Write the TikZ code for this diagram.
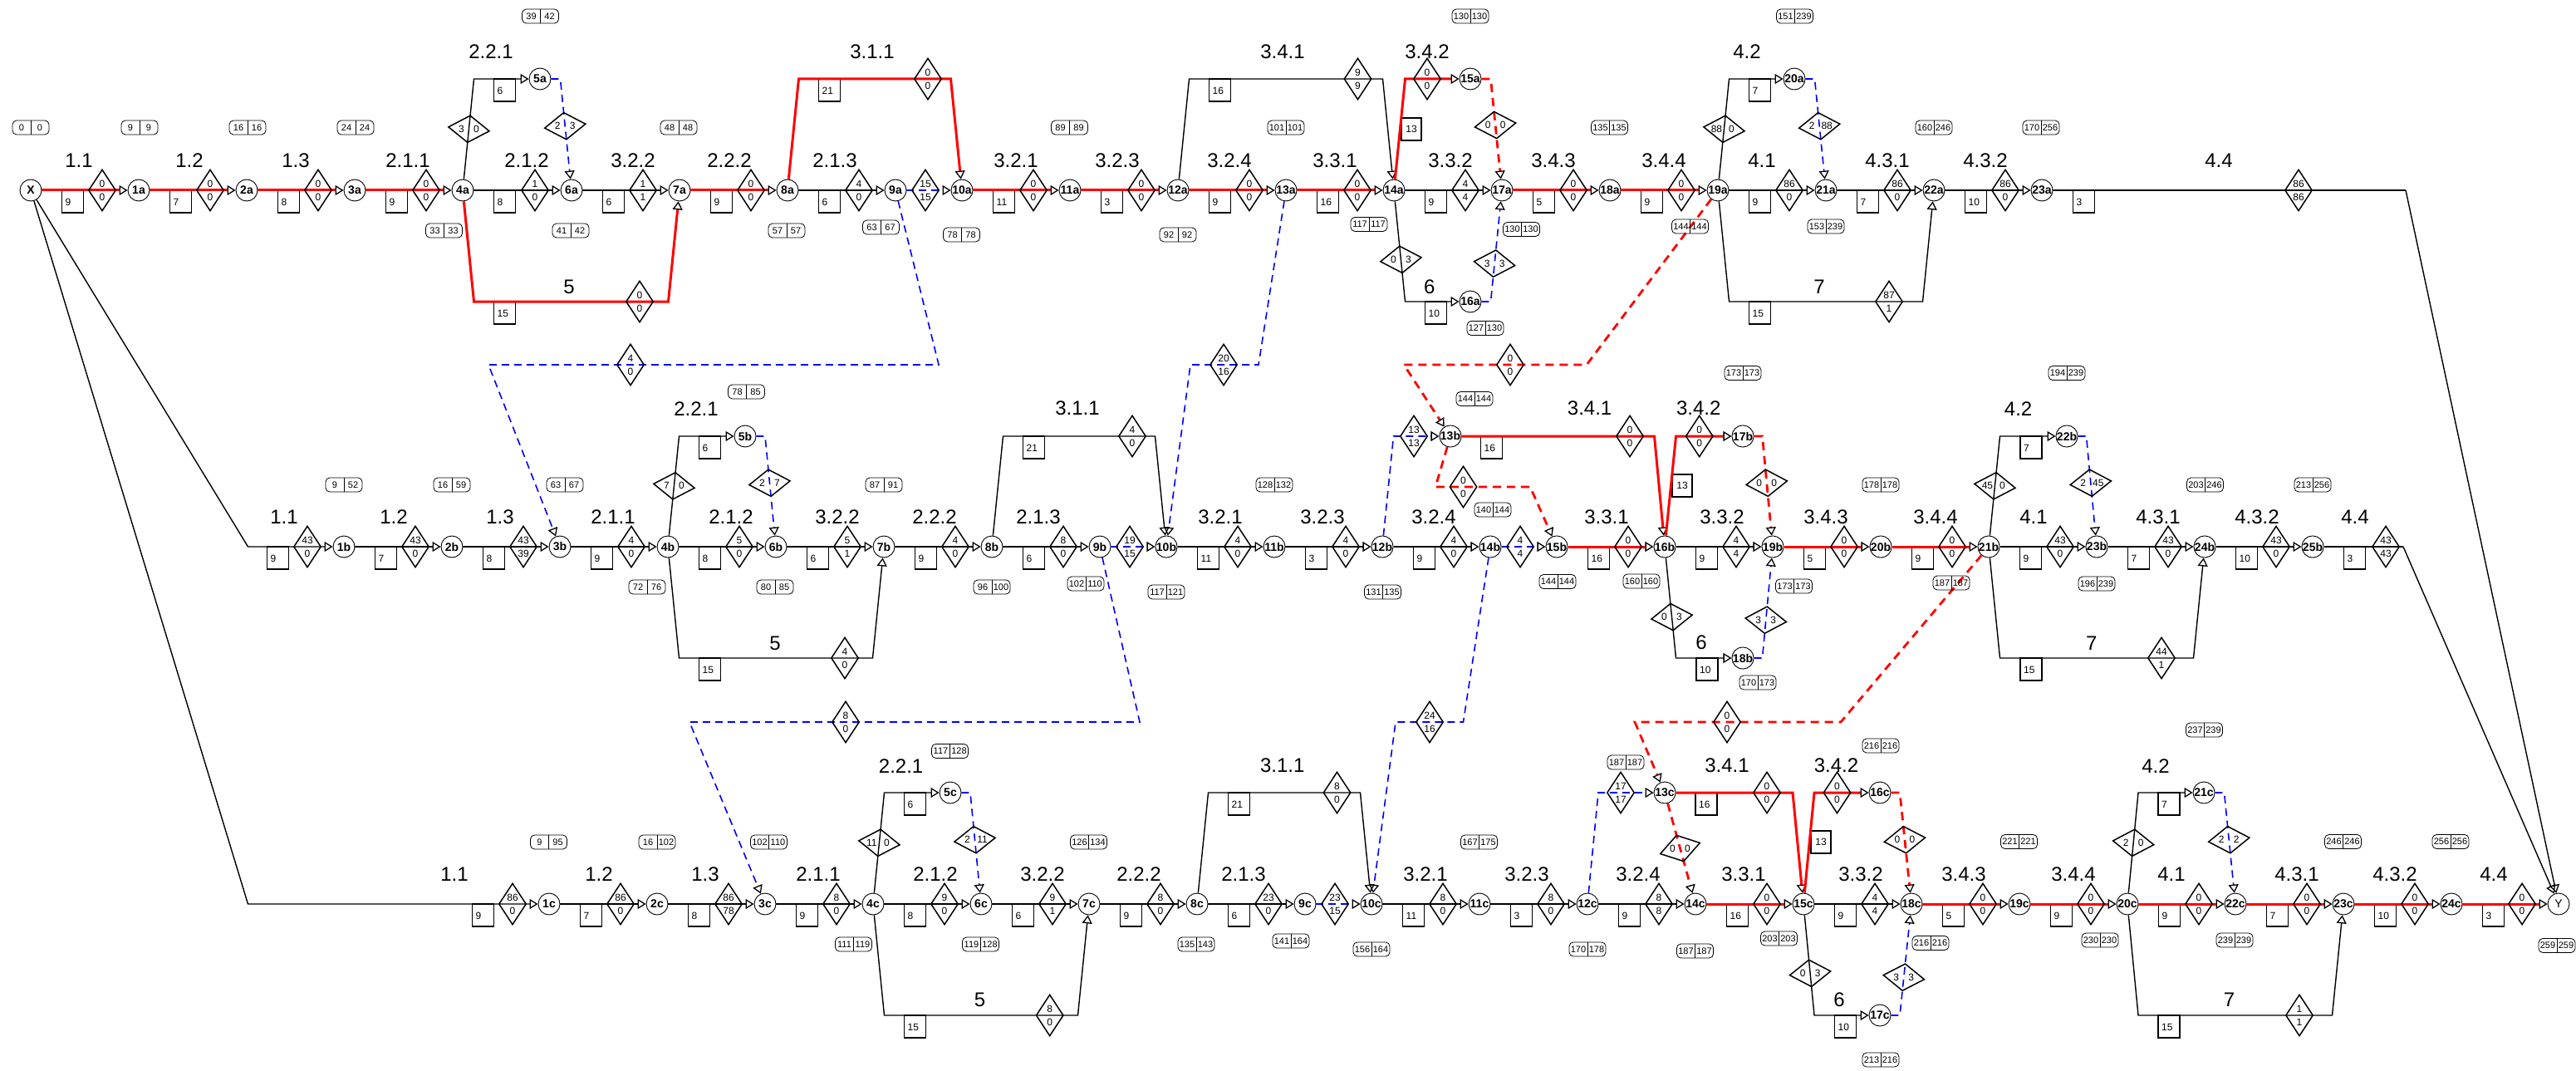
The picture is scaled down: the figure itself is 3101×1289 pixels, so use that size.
\documentclass[tikz,border=0pt]{standalone}
\usepackage{fontspec}
\setmainfont{Liberation Sans}
\usetikzlibrary{arrows.meta,calc,shapes.geometric}
\tikzset{
 cn/.style={circle,draw,line width=0.9pt,fill=white,minimum size=26pt,inner sep=0pt,font=\fontsize{14}{14}\selectfont\bfseries},
 blk/.style={line width=1.4pt,black},
 rd/.style={line width=3pt,red},
 bd/.style={line width=1.6pt,blue,dash pattern=on 9pt off 6pt},
 rdd/.style={line width=2.8pt,red,dash pattern=on 10pt off 7pt},
 ar/.style={-{Triangle[open,length=10pt,width=12pt,line width=1.3pt,color=black]}},
 dia/.style={shape=diamond,draw=black,solid,line width=1.5pt,minimum width=33pt,minimum height=50pt,inner sep=0pt},
 num/.style={font=\fontsize{12}{12}\selectfont,inner sep=0pt,text=black},
 lab/.style={font=\fontsize{24}{24}\selectfont,inner sep=0pt},
 durb/.style={draw,line width=1.6pt},
 tbs/.style={draw,rounded corners=5pt,minimum width=44pt,minimum height=17pt,inner sep=0pt,line width=.8pt},
 tn/.style={font=\fontsize{11}{11}\selectfont,inner sep=0pt},
}
\newcommand\hdm[4]{\node[dia] (#1) at (#2) {};\node[num] (#1t) at ($(#1)+(0,-7.5)$) {#3};\node[num] (#1b) at ($(#1)+(0,8)$) {#4};}
\newcommand\sdm[6]{\path (#2) -- node[dia,sloped,pos=#4] (#1) {} (#3);\node[num] (#1l) at ($(#1)+(-9,0)$) {#5};\node[num] (#1r) at ($(#1)+(9,0)$) {#6};}
\newcommand\dur[4]{\draw[durb] (#2,#3) rectangle ++(26,27);\node[num,anchor=west] (#1) at (#2+4,#3+14) {#4};}
\newcommand\me[8]{%
  \draw[durb] ($(#1)+(37.5,0)$) rectangle ++(26,27);
  \node[num,anchor=west] (#1#2du) at ($(#1)+(41.5,14)$) {#4};
  \draw[#3,ar] (#1) -- (#2);
  \hdm{#1#2di}{$(#2)+(-44,0)$}{#5}{#6}
  \node[lab] (#1#2la) at ($(#1)+(#8,-35.5)$) {#7};}
\newcommand\mx[5]{\draw[#3,ar] (#1) -- (#2);\hdm{#1#2di}{$(#2)+(-44,0)$}{#4}{#5}}
\newcommand\tbx[5]{\node[tbs] (#1) at (#2,#3) {};\draw[line width=.8pt] (#1.north) -- (#1.south);
  \node[tn] (#1l) at ($(#1)+(-11,0)$) {#4};\node[tn] (#1r) at ($(#1)+(11,0)$) {#5};}
\begin{document}
\begin{tikzpicture}[x=1pt,y=-1pt]
\useasboundingbox (0,0) rectangle (3101,1289);
% ---------- nodes row a
\node[cn] (X) at (37,229) {X};
\foreach \n/\x in {1a/167,2a/297,3a/427,4a/557,6a/688,7a/818,8a/948,9a/1078,10a/1158,11a/1288,12a/1418,13a/1548,14a/1678,17a/1808,18a/1938,19a/2068,21a/2198,22a/2328,23a/2458}{\node[cn] (\n) at (\x,229) {\n};}
\node[cn] (5a) at (650,95) {5a};
\node[cn] (15a) at (1770,95) {15a};
\node[cn] (20a) at (2160,95) {20a};
\node[cn] (16a) at (1770,363) {16a};
% ---------- nodes row b
\foreach \n/\x in {1b/414,2b/544,3b/674,4b/804,6b/934,7b/1064,8b/1194,9b/1324,10b/1404,11b/1534,12b/1664,14b/1794,15b/1874,16b/2004,19b/2134,20b/2264,21b/2394,23b/2524,24b/2654,25b/2784}{\node[cn] (\n) at (\x,658) {\n};}
\node[cn] (5b) at (897,525) {5b};
\node[cn] (13b) at (1746,525) {13b};
\node[cn] (17b) at (2098,525) {17b};
\node[cn] (22b) at (2488,525) {22b};
\node[cn] (18b) at (2098,792) {18b};
% ---------- nodes row c
\foreach \n/\x in {1c/661,2c/791,3c/921,4c/1051,6c/1181,7c/1311,8c/1441,9c/1571,10c/1651,11c/1781,12c/1911,14c/2041,15c/2171,18c/2301,19c/2431,20c/2561,22c/2691,23c/2821,24c/2951}{\node[cn] (\n) at (\x,1088) {\n};}
\node[cn] (5c) at (1144,954) {5c};
\node[cn] (13c) at (2004,954) {13c};
\node[cn] (16c) at (2263,954) {16c};
\node[cn] (21c) at (2653,954) {21c};
\node[cn] (17c) at (2263,1222) {17c};
\node[cn,font=\fontsize{14}{14}\selectfont] (Y) at (3080,1088) {Y};
% ---------- coordinates
\coordinate (ca4u) at (570.5,95); \coordinate (ca5r) at (674.5,95);
\coordinate (ca4d) at (570.5,363); \coordinate (ca7d) at (804.5,363);
\coordinate (ca8u) at (961.5,95); \coordinate (ca10u) at (1144.5,95);
\coordinate (ca12u) at (1431.5,95); \coordinate (ca14u) at (1664.5,95);
\coordinate (ca14uu) at (1691.5,95); \coordinate (ca14d) at (1691.5,363);
\coordinate (ca15r) at (1794.5,95); \coordinate (ca16r) at (1794.5,363);
\coordinate (ca19u) at (2081.5,95); \coordinate (ca20r) at (2184.5,95);
\coordinate (ca19d) at (2081.5,363); \coordinate (ca22d) at (2314.5,363);
\coordinate (ca23e) at (2896,229);
\coordinate (cb) at (298.5,658);
\coordinate (cb4u) at (817.5,525); \coordinate (cb5r) at (921,525);
\coordinate (cb4d) at (817.5,792); \coordinate (cb7d) at (1050.5,792);
\coordinate (cb8u) at (1207.5,525); \coordinate (cb10u) at (1390.5,525);
\coordinate (cb12u) at (1677.5,525); \coordinate (cb16u) at (1991.5,525);
\coordinate (cb13d) at (1728,586); \coordinate (cb15d) at (1842,586);
\coordinate (cb16uu) at (2017.5,525); \coordinate (cb17r) at (2121.5,525);
\coordinate (cb16d) at (2017.5,792); \coordinate (cb18r) at (2121.5,792);
\coordinate (cb21u) at (2407.5,525); \coordinate (cb22r) at (2511.5,525);
\coordinate (cb21d) at (2407.5,792); \coordinate (cb24d) at (2640.5,792);
\coordinate (cb25e) at (2893,658);
\coordinate (cc) at (298.5,1088);
\coordinate (cc4u) at (1064.5,954); \coordinate (cc5r) at (1168,954);
\coordinate (cc4d) at (1064.5,1222); \coordinate (cc7d) at (1297.5,1222);
\coordinate (cc8u) at (1454.5,954); \coordinate (cc10u) at (1637.5,954);
\coordinate (cc12u) at (1924,954); \coordinate (cc15u) at (2158,954);
\coordinate (cc15uu) at (2184,954); \coordinate (cc16r) at (2287,954);
\coordinate (cc15d) at (2184,1222); \coordinate (cc17r) at (2287,1222);
\coordinate (cc20u) at (2574,954); \coordinate (cc21r) at (2677.5,954);
\coordinate (cc20d) at (2574,1222); \coordinate (cc23d) at (2807.5,1222);
\coordinate (ab1) at (1130,439); \coordinate (ab2) at (588,439);
\coordinate (ab3) at (1515,439); \coordinate (ab4) at (1433,439);
\coordinate (ab5) at (1910,439); \coordinate (ab6) at (1690,439);
\coordinate (bc1) at (1372,869); \coordinate (bc2) at (830,869);
\coordinate (bc3) at (1761.5,869); \coordinate (bc4) at (1680,869);
\coordinate (bc5) at (2216,869); \coordinate (bc6) at (1968,869);
% ================= ROW A main
\me{X}{1a}{rd}{9}{0}{0}{1.1}{58}
\me{1a}{2a}{rd}{7}{0}{0}{1.2}{61}
\me{2a}{3a}{rd}{8}{0}{0}{1.3}{59}
\me{3a}{4a}{rd}{9}{0}{0}{2.1.1}{64}
\me{4a}{6a}{blk}{8}{1}{0}{2.1.2}{77}
\me{6a}{7a}{blk}{6}{1}{1}{3.2.2}{74}
\me{7a}{8a}{rd}{9}{0}{0}{2.2.2}{60}
\me{8a}{9a}{blk}{6}{4}{0}{2.1.3}{57}
\mx{9a}{10a}{bd}{15}{15}
\me{10a}{11a}{rd}{11}{0}{0}{3.2.1}{65}
\me{11a}{12a}{rd}{3}{0}{0}{3.2.3}{57}
\me{12a}{13a}{rd}{9}{0}{0}{3.2.4}{62}
\me{13a}{14a}{rd}{16}{0}{0}{3.3.1}{59}
\me{14a}{17a}{blk}{9}{4}{4}{3.3.2}{68}
\me{17a}{18a}{rd}{5}{0}{0}{3.4.3}{62}
\me{18a}{19a}{rd}{9}{0}{0}{3.4.4}{65}
\me{19a}{21a}{blk}{9}{86}{0}{4.1}{53}
\me{21a}{22a}{blk}{7}{86}{0}{4.3.1}{74}
\me{22a}{23a}{blk}{10}{86}{0}{4.3.2}{62}
\dur{d23a}{2495.5}{229}{3}
\draw[blk] (23a) -- (ca23e);
\draw[blk,ar] (ca23e) -- (Y);
\hdm{dm23a}{2767,229}{86}{86}
\node[lab] (l44a) at (2671,193.5) {4.4};
% row a branches
\dur{d4au}{594.5}{95}{6}
\draw[blk,ar] (4a) -- (ca4u) -- (5a);
\sdm{s4a}{4a}{ca4u}{.5}{3}{0}
\node[lab] (l221a) at (591,62) {2.2.1};
\draw[bd,ar] (5a) -- (ca5r) -- (6a);
\sdm{s5a}{ca5r}{6a}{.47}{2}{3}
\dur{d4ad}{594.5}{363}{15}
\draw[rd,ar] (4a) -- (ca4d) -- (ca7d) -- (7a);
\hdm{dm4ad}{770,363}{0}{0}
\node[lab] (l5a) at (685,345) {5};
\dur{d8au}{985.5}{95}{21}
\draw[rd,ar] (8a) -- (ca8u) -- (ca10u) -- (10a);
\hdm{dm8au}{1117,95}{0}{0}
\node[lab] (l311a) at (1050,62) {3.1.1};
\dur{d12au}{1455.5}{95}{16}
\draw[blk,ar] (12a) -- (ca12u) -- (ca14u) -- (14a);
\hdm{dm12au}{1634.5,95}{9}{9}
\node[lab] (l341a) at (1544,62) {3.4.1};
\draw[durb] (1687,142) rectangle (1711,169); \node[num] (d14au) at (1699,155.5) {13};
\draw[rd,ar] (14a) -- (ca14uu) -- (15a);
\hdm{dm14au}{1718,95}{0}{0}
\node[lab] (l342a) at (1718,62) {3.4.2};
\draw[rdd,ar] (15a) -- (ca15r) -- (17a);
\sdm{s15a}{ca15r}{17a}{.46}{0}{0}
\dur{d14ad}{1715.5}{363}{10}
\draw[blk,ar] (14a) -- (ca14d) -- (16a);
\sdm{s14a}{14a}{ca14d}{.58}{0}{3}
\node[lab] (l6a) at (1720.7,345) {6};
\draw[bd,ar] (16a) -- (ca16r) -- (17a);
\sdm{s16a}{ca16r}{17a}{.38}{3}{3}
\dur{d19au}{2105.5}{95}{7}
\draw[blk,ar] (19a) -- (ca19u) -- (20a);
\sdm{s19a}{19a}{ca19u}{.5}{88}{0}
\node[lab] (l42a) at (2103,62) {4.2};
\draw[bd,ar] (20a) -- (ca20r) -- (21a);
\sdm{s20a}{ca20r}{21a}{.47}{2}{88}
\dur{d19ad}{2105.5}{363}{15}
\draw[blk,ar] (19a) -- (ca19d) -- (ca22d) -- (22a);
\hdm{dm19ad}{2274,363}{87}{1}
\node[lab] (l7a) at (2190,345) {7};
% ================= inter-row a->b
\draw[bd,ar] (9a) -- (ab1) -- (ab2) -- (3b);
\hdm{dmab1}{759,439}{4}{0}
\draw[bd,ar] (13a) -- (ab3) -- (ab4) -- (10b);
\hdm{dmab2}{1473,439}{20}{16}
\draw[rdd,ar] (19a) -- (ab5) -- (ab6) -- (13b);
\hdm{dmab3}{1818,439}{0}{0}
% ================= ROW B main
\dur{d0b}{321.5}{658}{9}
\draw[blk,ar] (X) -- (cb) -- (1b);
\hdm{dm0b}{370,658}{43}{0}
\node[lab] (l11b) at (342,622.5) {1.1};
\me{1b}{2b}{blk}{7}{43}{0}{1.2}{60}
\me{2b}{3b}{blk}{8}{43}{39}{1.3}{58}
\me{3b}{4b}{blk}{9}{4}{0}{2.1.1}{64}
\me{4b}{6b}{blk}{8}{5}{0}{2.1.2}{76}
\me{6b}{7b}{blk}{6}{5}{1}{3.2.2}{74}
\me{7b}{8b}{blk}{9}{4}{0}{2.2.2}{61}
\me{8b}{9b}{blk}{6}{8}{0}{2.1.3}{56}
\mx{9b}{10b}{bd}{19}{15}
\me{10b}{11b}{blk}{11}{4}{0}{3.2.1}{65}
\me{11b}{12b}{blk}{3}{4}{0}{3.2.3}{58}
\me{12b}{14b}{blk}{9}{4}{0}{3.2.4}{62}
\mx{14b}{15b}{bd}{4}{4}
\me{15b}{16b}{rd}{16}{0}{0}{3.3.1}{60}
\me{16b}{19b}{blk}{9}{4}{4}{3.3.2}{69}
\me{19b}{20b}{rd}{5}{0}{0}{3.4.3}{64}
\me{20b}{21b}{rd}{9}{0}{0}{3.4.4}{66}
\me{21b}{23b}{blk}{9}{43}{0}{4.1}{54}
\me{23b}{24b}{blk}{7}{43}{0}{4.3.1}{74}
\me{24b}{25b}{blk}{10}{43}{0}{4.3.2}{63}
\dur{d25b}{2821.5}{658}{3}
\draw[blk] (25b) -- (cb25e);
\draw[blk,ar] (cb25e) -- (Y);
\hdm{dm25b}{2872,658}{43}{43}
\node[lab] (l44b) at (2835,622.5) {4.4};
% row b branches
\dur{d4bu}{841.5}{525}{6}
\draw[blk,ar] (4b) -- (cb4u) -- (5b);
\sdm{s4b}{4b}{cb4u}{.5}{7}{0}
\node[lab] (l221b) at (838,491.7) {2.2.1};
\draw[bd,ar] (5b) -- (cb5r) -- (6b);
\sdm{s5b}{cb5r}{6b}{.47}{2}{7}
\dur{d4bd}{841.5}{792}{15}
\draw[blk,ar] (4b) -- (cb4d) -- (cb7d) -- (7b);
\hdm{dm4bd}{1017,792}{4}{0}
\node[lab] (l5b) at (933,774) {5};
\dur{d8bu}{1231.5}{525}{21}
\draw[blk,ar] (8b) -- (cb8u) -- (cb10u) -- (10b);
\hdm{dm8bu}{1363,525}{4}{0}
\node[lab] (l311b) at (1297,491.7) {3.1.1};
\draw[bd,ar] (12b) -- (cb12u) -- (13b);
\hdm{dm12bu}{1702,525}{13}{13}
\dur{d13b}{1782.5}{525}{16}
\draw[rd,ar] (13b) -- (cb16u) -- (16b);
\hdm{dm13b}{1962,525}{0}{0}
\node[lab] (l341b) at (1913.6,491.7) {3.4.1};
\draw[rdd,ar] (13b) -- (cb13d) -- (cb15d) -- (15b);
\hdm{dm13bd}{1761.5,586}{0}{0}
\draw[durb] (2013,571) rectangle (2037,598); \node[num] (d16bu) at (2025,584.5) {13};
\draw[rd,ar] (16b) -- (cb16uu) -- (17b);
\hdm{dm16bu}{2045.7,525}{0}{0}
\node[lab] (l342b) at (2044.7,491.7) {3.4.2};
\draw[rdd,ar] (17b) -- (cb17r) -- (19b);
\sdm{s17b}{cb17r}{19b}{.47}{0}{0}
\dur{d16bd}{2042}{792}{10}
\draw[blk,ar] (16b) -- (cb16d) -- (18b);
\sdm{s16b}{16b}{cb16d}{.59}{0}{3}
\node[lab] (l6b) at (2048,773) {6};
\draw[bd,ar] (18b) -- (cb18r) -- (19b);
\sdm{s18b}{cb18r}{19b}{.38}{3}{3}
\dur{d21bu}{2432}{525}{7}
\draw[blk,ar] (21b) -- (cb21u) -- (22b);
\sdm{s21b}{21b}{cb21u}{.5}{45}{0}
\node[lab] (l42b) at (2429.6,491.7) {4.2};
\draw[bd,ar] (22b) -- (cb22r) -- (23b);
\sdm{s22b}{cb22r}{23b}{.47}{2}{45}
\dur{d21bd}{2432}{792}{15}
\draw[blk,ar] (21b) -- (cb21d) -- (cb24d) -- (24b);
\hdm{dm21bd}{2602,792}{44}{1}
\node[lab] (l7b) at (2517.7,774) {7};
% ================= inter-row b->c
\draw[bd,ar] (9b) -- (bc1) -- (bc2) -- (3c);
\hdm{dmbc1}{1018,869}{8}{0}
\draw[bd,ar] (14b) -- (bc3) -- (bc4) -- (10c);
\hdm{dmbc2}{1721,869}{24}{16}
\draw[rdd,ar] (21b) -- (bc5) -- (bc6) -- (13c);
\hdm{dmbc3}{2079,869}{0}{0}
% ================= ROW C main
\dur{d0c}{568.5}{1088}{9}
\draw[blk,ar] (X) -- (cc) -- (1c);
\hdm{dm0c}{617,1088}{86}{0}
\node[lab] (l11c) at (547,1052.5) {1.1};
\me{1c}{2c}{blk}{7}{86}{0}{1.2}{60}
\me{2c}{3c}{blk}{8}{86}{78}{1.3}{58}
\me{3c}{4c}{blk}{9}{8}{0}{2.1.1}{64}
\me{4c}{6c}{blk}{8}{9}{0}{2.1.2}{75}
\me{6c}{7c}{blk}{6}{9}{1}{3.2.2}{74}
\me{7c}{8c}{blk}{9}{8}{0}{2.2.2}{60}
\me{8c}{9c}{blk}{6}{23}{0}{2.1.3}{56}
\mx{9c}{10c}{bd}{23}{15}
\me{10c}{11c}{blk}{11}{8}{0}{3.2.1}{65}
\me{11c}{12c}{blk}{3}{8}{0}{3.2.3}{57}
\me{12c}{14c}{blk}{9}{8}{8}{3.2.4}{61}
\me{14c}{15c}{rd}{16}{0}{0}{3.3.1}{58}
\me{15c}{18c}{blk}{9}{4}{4}{3.3.2}{69}
\me{18c}{19c}{rd}{5}{0}{0}{3.4.3}{63}
\me{19c}{20c}{rd}{9}{0}{0}{3.4.4}{65}
\me{20c}{22c}{rd}{9}{0}{0}{4.1}{53}
\me{22c}{23c}{rd}{7}{0}{0}{4.3.1}{74}
\me{23c}{24c}{rd}{10}{0}{0}{4.3.2}{62}
\me{24c}{Y}{rd}{3}{0}{0}{4.4}{51}
% row c branches
\dur{d4cu}{1088.5}{954}{6}
\draw[blk,ar] (4c) -- (cc4u) -- (5c);
\sdm{s4c}{4c}{cc4u}{.5}{11}{0}
\node[lab] (l221c) at (1084.6,921.7) {2.2.1};
\draw[bd,ar] (5c) -- (cc5r) -- (6c);
\sdm{s5c}{cc5r}{6c}{.47}{2}{11}
\dur{d4cd}{1088.5}{1222}{15}
\draw[blk,ar] (4c) -- (cc4d) -- (cc7d) -- (7c);
\hdm{dm4cd}{1263.7,1222}{8}{0}
\node[lab] (l5c) at (1179.5,1203) {5};
\dur{d8cu}{1478.5}{954}{21}
\draw[blk,ar] (8c) -- (cc8u) -- (cc10u) -- (10c);
\hdm{dm8cu}{1609.5,954}{8}{0}
\node[lab] (l311c) at (1543.8,921.7) {3.1.1};
\draw[bd,ar] (12c) -- (cc12u) -- (13c);
\hdm{dm12cu}{1951,954}{17}{17}
\dur{d13c}{2041}{954}{16}
\draw[rd,ar] (13c) -- (cc15u) -- (15c);
\hdm{dm13c}{2127,954}{0}{0}
\node[lab] (l341c) at (2079,921.7) {3.4.1};
\draw[rdd,ar] (13c) -- (14c);
\sdm{s13c}{13c}{14c}{.5}{0}{0}
\draw[durb] (2180,1000) rectangle (2204,1027); \node[num] (d15cu) at (2192,1013.5) {13};
\draw[rd,ar] (15c) -- (cc15uu) -- (16c);
\hdm{dm15cu}{2211.5,954}{0}{0}
\node[lab] (l342c) at (2210.5,921.7) {3.4.2};
\draw[rdd,ar] (16c) -- (cc16r) -- (18c);
\sdm{s16c}{cc16r}{18c}{.47}{0}{0}
\dur{d15cd}{2208.5}{1222}{10}
\draw[blk,ar] (15c) -- (cc15d) -- (17c);
\sdm{s15c}{15c}{cc15d}{.58}{0}{3}
\node[lab] (l6c) at (2214,1203) {6};
\draw[bd,ar] (17c) -- (cc17r) -- (18c);
\sdm{s17c}{cc17r}{18c}{.38}{3}{3}
\dur{d20cu}{2598}{954}{7}
\draw[blk,ar] (20c) -- (cc20u) -- (21c);
\sdm{s20c}{20c}{cc20u}{.5}{2}{0}
\node[lab] (l42c) at (2595,921.7) {4.2};
\draw[bd,ar] (21c) -- (cc21r) -- (22c);
\sdm{s21c}{cc21r}{22c}{.47}{2}{2}
\dur{d20cd}{2598}{1222}{15}
\draw[blk,ar] (20c) -- (cc20d) -- (cc23d) -- (23c);
\hdm{dm20cd}{2768,1222}{1}{1}
\node[lab] (l7c) at (2683.5,1203) {7};
% ================= time boxes
\tbx{tX}{37}{153.5}{0}{0}
\tbx{t1a}{168}{153.5}{9}{9}
\tbx{t2a}{298}{153.5}{16}{16}
\tbx{t3a}{428}{153.5}{24}{24}
\tbx{t4a}{534.5}{277.5}{33}{33}
\tbx{t5a}{650.5}{19.5}{39}{42}
\tbx{t6a}{687}{277.5}{41}{42}
\tbx{t7a}{817}{153.5}{48}{48}
\tbx{t8a}{947}{277.5}{57}{57}
\tbx{t9a}{1060.5}{273.5}{63}{67}
\tbx{t10a}{1157.5}{282.5}{78}{78}
\tbx{t11a}{1287.5}{153.5}{89}{89}
\tbx{t12a}{1418}{282.5}{92}{92}
\tbx{t13a}{1548}{153.5}{101}{101}
\tbx{t14a}{1648}{270}{117}{117}
\tbx{t15a}{1770}{19.5}{130}{130}
\tbx{t16a}{1788}{395}{127}{130}
\tbx{t17a}{1831.5}{276}{130}{130}
\tbx{t18a}{1937.5}{153.5}{135}{135}
\tbx{t19a}{2034.5}{272.5}{144}{144}
\tbx{t20a}{2160.5}{19.5}{151}{239}
\tbx{t21a}{2198}{272.5}{153}{239}
\tbx{t22a}{2328}{153.5}{160}{246}
\tbx{t23a}{2457}{153.5}{170}{256}
\tbx{tY}{3078}{1138}{259}{259}
\tbx{t1b}{414}{583.5}{9}{52}
\tbx{t2b}{544}{583.5}{16}{59}
\tbx{t3b}{680}{583.5}{63}{67}
\tbx{t4b}{779}{706.5}{72}{76}
\tbx{t5b}{898.5}{471.5}{78}{85}
\tbx{t6b}{933}{706.5}{80}{85}
\tbx{t7b}{1064}{583.5}{87}{91}
\tbx{t8b}{1194}{706.5}{96}{100}
\tbx{t9b}{1307}{702.5}{102}{110}
\tbx{t10b}{1404}{712.5}{117}{121}
\tbx{t11b}{1534}{583.5}{128}{132}
\tbx{t12b}{1664.5}{712.5}{131}{135}
\tbx{t13b}{1775}{480}{144}{144}
\tbx{t14b}{1797}{613.5}{140}{144}
\tbx{t15b}{1875}{700}{144}{144}
\tbx{t16b}{1976}{699.5}{160}{160}
\tbx{t17b}{2098}{449}{173}{173}
\tbx{t18b}{2116}{821.5}{170}{173}
\tbx{t19b}{2159.5}{705.5}{173}{173}
\tbx{t20b}{2264}{583.5}{178}{178}
\tbx{t21b}{2349}{701.5}{187}{187}
\tbx{t22b}{2488}{449}{194}{239}
\tbx{t23b}{2524}{702.5}{196}{239}
\tbx{t24b}{2654.5}{583.5}{203}{246}
\tbx{t25b}{2784}{583.5}{213}{256}
\tbx{t1c}{660.5}{1013.5}{9}{95}
\tbx{t2c}{791}{1013.5}{16}{102}
\tbx{t3c}{925.5}{1013.5}{102}{110}
\tbx{t4c}{1027.5}{1136.5}{111}{119}
\tbx{t5c}{1143.5}{904}{117}{128}
\tbx{t6c}{1180.5}{1136.5}{119}{128}
\tbx{t7c}{1310.5}{1013.5}{126}{134}
\tbx{t8c}{1440}{1136.5}{135}{143}
\tbx{t9c}{1554}{1132.5}{141}{164}
\tbx{t10c}{1651}{1142.5}{156}{164}
\tbx{t11c}{1780.5}{1013.5}{167}{175}
\tbx{t12c}{1911}{1142.5}{170}{178}
\tbx{t13c}{1957}{917.5}{187}{187}
\tbx{t14c}{2040.5}{1144.5}{187}{187}
\tbx{t15c}{2141.5}{1129.5}{203}{203}
\tbx{t16c}{2264}{897.5}{216}{216}
\tbx{t17c}{2264}{1275.5}{213}{216}
\tbx{t18c}{2324}{1135}{216}{216}
\tbx{t19c}{2430.5}{1013}{221}{221}
\tbx{t20c}{2528}{1131.5}{230}{230}
\tbx{t21c}{2653.5}{878.5}{237}{239}
\tbx{t22c}{2690}{1131.5}{239}{239}
\tbx{t23c}{2820.5}{1013}{246}{246}
\tbx{t24c}{2950}{1013}{256}{256}
\end{tikzpicture}
\end{document}
